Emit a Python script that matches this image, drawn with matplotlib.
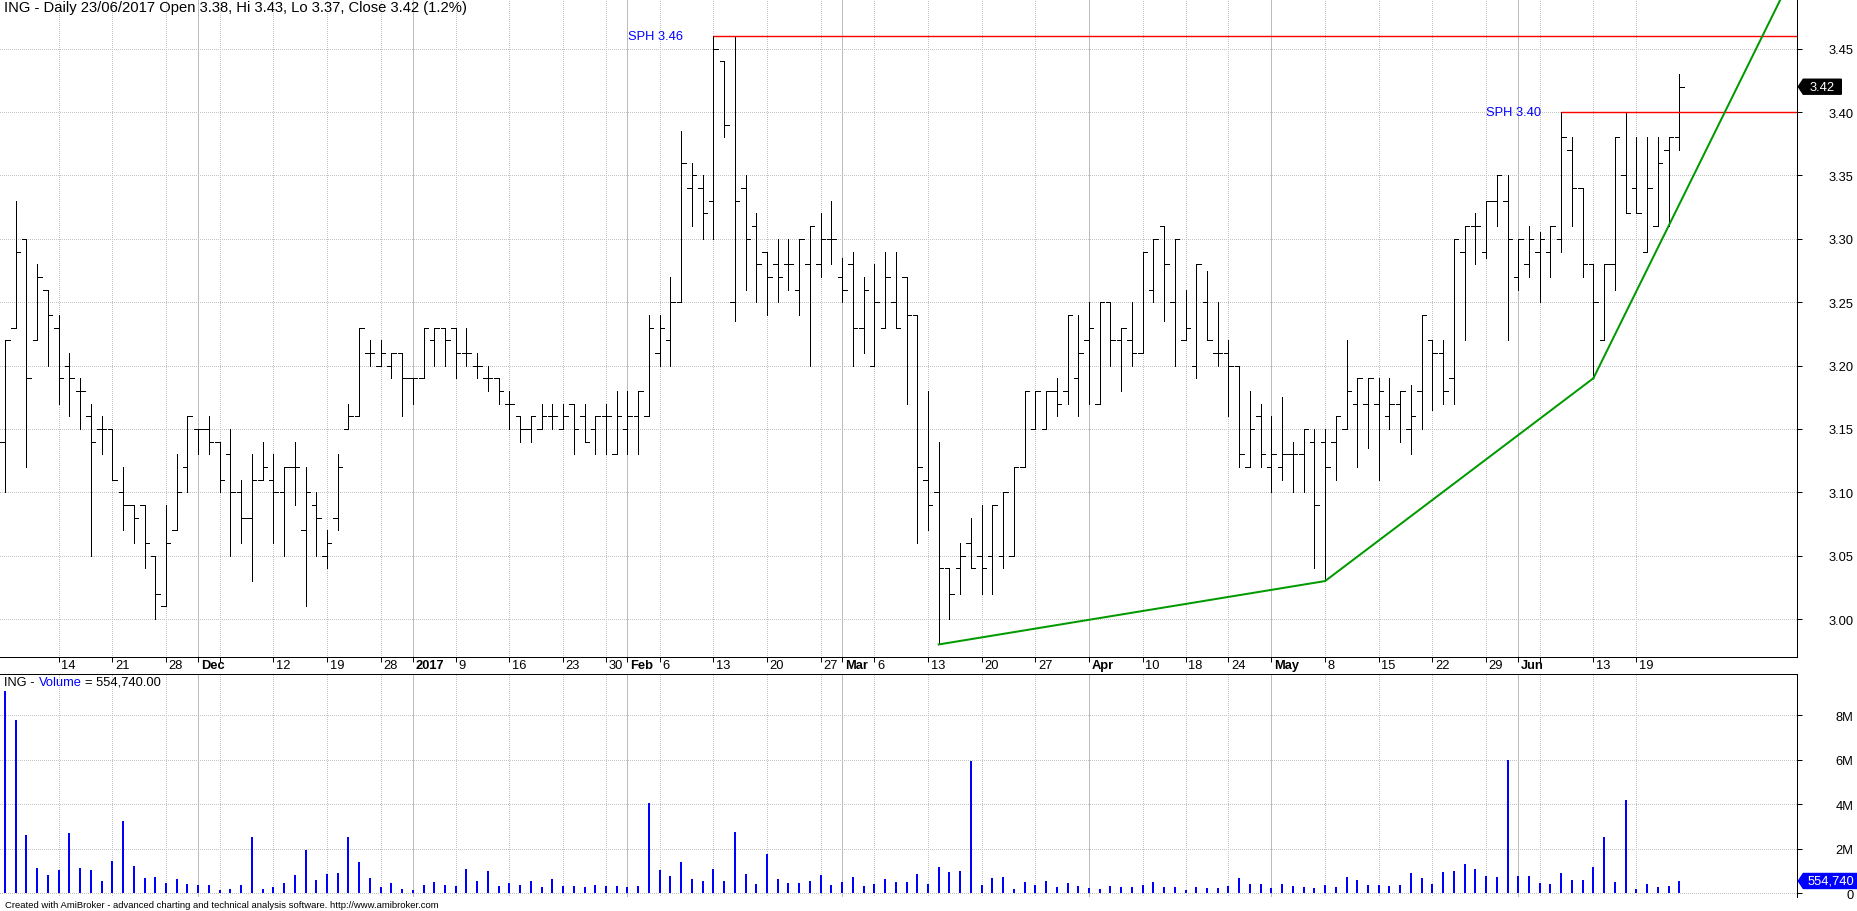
import numpy as np
import matplotlib
matplotlib.use("Agg")
import matplotlib.pyplot as plt
from matplotlib.collections import LineCollection
from matplotlib.patches import Polygon
from matplotlib.transforms import blended_transform_factory

plt.rcParams['font.family'] = ['Liberation Sans', 'DejaVu Sans']

# ING daily bars, one per trading day (07/11/2016 .. 23/06/2017)
opens = [3.14, 3.23, 3.30, 3.22, 3.26, 3.23, 3.20, 3.18, 3.16, 3.15,
         3.15, 3.10, 3.09, 3.09, 3.05, 3.01, 3.07, 3.12, 3.15, 3.15,
         3.14, 3.13, 3.10, 3.08, 3.11, 3.11, 3.10, 3.12, 3.07, 3.09,
         3.05, 3.08, 3.15, 3.16, 3.21, 3.20, 3.20, 3.21, 3.19, 3.19,
         3.22, 3.23, 3.23, 3.21, 3.20, 3.19, 3.19, 3.17, 3.16, 3.15,
         3.15, 3.16, 3.15, 3.17, 3.16, 3.15, 3.16, 3.13, 3.15, 3.16,
         3.16, 3.21, 3.22, 3.25, 3.34, 3.34, 3.33, 3.44, 3.25, 3.34,
         3.31, 3.29, 3.28, 3.28, 3.26, 3.28, 3.28, 3.30, 3.27, 3.28,
         3.23, 3.20, 3.23, 3.25, 3.27, 3.24, 3.11, 3.10, 3.04, 3.04,
         3.06, 3.05, 3.05, 3.05, 3.05, 3.12, 3.15, 3.15, 3.18, 3.18,
         3.19, 3.22, 3.17, 3.25, 3.22, 3.22, 3.21, 3.26, 3.31, 3.25,
         3.22, 3.20, 3.25, 3.21, 3.21, 3.20, 3.12, 3.16, 3.12, 3.12,
         3.13, 3.13, 3.14, 3.14, 3.14, 3.15, 3.17, 3.17, 3.17, 3.16,
         3.17, 3.15, 3.18, 3.22, 3.21, 3.19, 3.29, 3.31, 3.29, 3.33,
         3.33, 3.27, 3.28, 3.29, 3.29, 3.30, 3.37, 3.34, 3.28, 3.22,
         3.28, 3.35, 3.34, 3.29, 3.31, 3.37, 3.38]
highs = [3.22, 3.33, 3.30, 3.28, 3.26, 3.24, 3.21, 3.19, 3.17, 3.16,
         3.15, 3.12, 3.09, 3.09, 3.05, 3.09, 3.13, 3.16, 3.15, 3.16,
         3.14, 3.15, 3.11, 3.13, 3.14, 3.13, 3.12, 3.14, 3.12, 3.10,
         3.07, 3.13, 3.17, 3.23, 3.22, 3.22, 3.21, 3.21, 3.19, 3.23,
         3.23, 3.23, 3.23, 3.23, 3.21, 3.20, 3.19, 3.18, 3.16, 3.16,
         3.17, 3.17, 3.17, 3.17, 3.17, 3.16, 3.17, 3.18, 3.18, 3.18,
         3.24, 3.24, 3.27, 3.385, 3.36, 3.35, 3.46, 3.44, 3.46, 3.35,
         3.32, 3.29, 3.30, 3.30, 3.30, 3.31, 3.32, 3.33, 3.285, 3.29,
         3.27, 3.28, 3.29, 3.29, 3.27, 3.24, 3.18, 3.14, 3.04, 3.06,
         3.08, 3.09, 3.09, 3.10, 3.12, 3.18, 3.18, 3.18, 3.19, 3.24,
         3.24, 3.25, 3.25, 3.25, 3.23, 3.25, 3.29, 3.30, 3.31, 3.30,
         3.26, 3.28, 3.275, 3.25, 3.22, 3.20, 3.18, 3.17, 3.16, 3.175,
         3.14, 3.15, 3.15, 3.15, 3.16, 3.22, 3.19, 3.19, 3.19, 3.19,
         3.18, 3.185, 3.24, 3.22, 3.22, 3.30, 3.31, 3.32, 3.33, 3.35,
         3.35, 3.30, 3.31, 3.305, 3.31, 3.40, 3.38, 3.34, 3.28, 3.28,
         3.38, 3.40, 3.38, 3.38, 3.38, 3.38, 3.43]
lows = [3.10, 3.23, 3.12, 3.22, 3.20, 3.17, 3.16, 3.15, 3.05, 3.13,
        3.11, 3.07, 3.06, 3.04, 3.00, 3.01, 3.07, 3.10, 3.13, 3.13,
        3.10, 3.05, 3.06, 3.03, 3.11, 3.06, 3.05, 3.09, 3.01, 3.05,
        3.04, 3.07, 3.15, 3.16, 3.20, 3.20, 3.19, 3.16, 3.17, 3.19,
        3.20, 3.20, 3.19, 3.20, 3.19, 3.18, 3.17, 3.15, 3.14, 3.14,
        3.15, 3.15, 3.15, 3.13, 3.14, 3.13, 3.13, 3.13, 3.13, 3.13,
        3.16, 3.20, 3.20, 3.25, 3.31, 3.30, 3.30, 3.38, 3.235, 3.26,
        3.25, 3.24, 3.25, 3.26, 3.24, 3.20, 3.27, 3.28, 3.25, 3.20,
        3.21, 3.20, 3.23, 3.23, 3.17, 3.06, 3.07, 2.98, 3.00, 3.02,
        3.04, 3.02, 3.02, 3.04, 3.05, 3.12, 3.15, 3.15, 3.16, 3.17,
        3.16, 3.17, 3.17, 3.20, 3.18, 3.20, 3.21, 3.25, 3.235, 3.20,
        3.22, 3.19, 3.22, 3.20, 3.16, 3.12, 3.12, 3.12, 3.10, 3.11,
        3.10, 3.10, 3.04, 3.03, 3.11, 3.15, 3.12, 3.135, 3.11, 3.15,
        3.14, 3.13, 3.15, 3.165, 3.17, 3.17, 3.22, 3.28, 3.285, 3.31,
        3.22, 3.26, 3.27, 3.25, 3.27, 3.29, 3.31, 3.27, 3.19, 3.22,
        3.26, 3.32, 3.32, 3.29, 3.31, 3.31, 3.37]
closes = [3.22, 3.29, 3.19, 3.27, 3.24, 3.19, 3.19, 3.18, 3.14, 3.15,
          3.11, 3.09, 3.08, 3.06, 3.02, 3.06, 3.10, 3.16, 3.15, 3.14,
          3.11, 3.10, 3.08, 3.11, 3.12, 3.10, 3.12, 3.12, 3.10, 3.08,
          3.06, 3.12, 3.16, 3.23, 3.21, 3.21, 3.21, 3.19, 3.19, 3.23,
          3.23, 3.22, 3.21, 3.21, 3.20, 3.19, 3.18, 3.17, 3.15, 3.16,
          3.16, 3.16, 3.16, 3.15, 3.14, 3.16, 3.16, 3.16, 3.16, 3.18,
          3.23, 3.23, 3.25, 3.36, 3.35, 3.32, 3.45, 3.39, 3.33, 3.30,
          3.28, 3.27, 3.27, 3.28, 3.30, 3.31, 3.30, 3.30, 3.26, 3.23,
          3.26, 3.25, 3.27, 3.23, 3.24, 3.12, 3.09, 3.04, 3.02, 3.05,
          3.04, 3.04, 3.09, 3.10, 3.12, 3.18, 3.18, 3.18, 3.17, 3.24,
          3.21, 3.23, 3.25, 3.22, 3.23, 3.21, 3.29, 3.30, 3.28, 3.30,
          3.23, 3.28, 3.22, 3.21, 3.20, 3.13, 3.15, 3.13, 3.13, 3.13,
          3.13, 3.15, 3.09, 3.12, 3.16, 3.18, 3.19, 3.19, 3.18, 3.17,
          3.18, 3.16, 3.24, 3.21, 3.18, 3.30, 3.31, 3.31, 3.33, 3.35,
          3.30, 3.30, 3.30, 3.30, 3.31, 3.38, 3.34, 3.28, 3.25, 3.28,
          3.38, 3.32, 3.32, 3.34, 3.36, 3.38, 3.42]
# volume in millions of shares
volumes_m = [9.09, 7.78, 2.62, 1.14, 0.82, 1.05, 2.71, 1.14, 1.05, 0.55,
             1.45, 3.25, 1.23, 0.69, 0.73, 0.46, 0.64, 0.42, 0.37, 0.37,
             0.15, 0.19, 0.37, 2.53, 0.19, 0.28, 0.46, 0.82, 1.95, 0.60,
             0.87, 0.91, 2.53, 1.41, 0.69, 0.28, 0.46, 0.19, 0.15, 0.37,
             0.51, 0.37, 0.33, 1.09, 0.55, 1.00, 0.33, 0.46, 0.37, 0.55,
             0.28, 0.64, 0.33, 0.33, 0.28, 0.37, 0.33, 0.33, 0.28, 0.33,
             4.06, 1.05, 0.78, 1.41, 0.64, 0.55, 1.09, 0.55, 2.75, 0.87,
             0.42, 1.77, 0.64, 0.46, 0.46, 0.55, 0.82, 0.37, 0.51, 0.73,
             0.33, 0.42, 0.64, 0.51, 0.51, 0.87, 0.42, 1.18, 0.96, 1.00,
             5.94, 0.37, 0.69, 0.73, 0.19, 0.51, 0.37, 0.55, 0.28, 0.46,
             0.33, 0.24, 0.19, 0.33, 0.28, 0.28, 0.37, 0.51, 0.28, 0.28,
             0.15, 0.28, 0.24, 0.24, 0.33, 0.69, 0.42, 0.42, 0.24, 0.42,
             0.33, 0.28, 0.24, 0.37, 0.28, 0.73, 0.60, 0.37, 0.37, 0.33,
             0.37, 0.91, 0.69, 0.42, 0.96, 1.00, 1.32, 1.09, 0.78, 0.73,
             5.99, 0.78, 0.78, 0.46, 0.42, 0.91, 0.60, 0.60, 1.18, 2.53,
             0.51, 4.19, 0.19, 0.42, 0.28, 0.33, 0.55474]

# date axis: bar index of each tick and its label
tick_bars = [5, 10, 15, 18, 20, 25, 30, 35, 38, 42, 47, 52, 56, 58, 61, 66, 71, 76, 78,
             81, 86, 91, 96, 101, 106, 110, 114, 118, 123, 128, 133, 138, 141, 143, 148, 152]
tick_labels = ['14', '21', '28', 'Dec', '', '12', '19', '28', '2017', '9', '16', '23', '30',
               'Feb', '6', '13', '20', '27', 'Mar', '6', '13', '20', '27', 'Apr', '10', '18',
               '24', 'May', '8', '15', '22', '29', 'Jun', '', '13', '19']
month_bars = [18, 38, 58, 78, 101, 118, 141]

price_ticks = [3.00, 3.05, 3.10, 3.15, 3.20, 3.25, 3.30, 3.35, 3.40, 3.45]
vol_ticks = [0, 2, 4, 6, 8]
vol_tick_labels = ['0', '2M', '4M', '6M', '8M']

sph_bars = [66, 145]          # swing-high bars
sph_label_shift = [2.8, 1.9]  # label gap, in bars
trend_bars = [87, 123, 148, 155]  # lows joined by the green trend line

W, H, DPI = 1858, 912, 100
PX = 72.0 / DPI
FS = 9.3
GRID = '#c4c4c4'
GREEN = '#009a00'
DOTS = (0, (1, 2))

fig = plt.figure(figsize=(W / DPI, H / DPI), dpi=DPI)
right = 1797.3 / W
ax = fig.add_axes([0, 1 - 658 / H, right, 658 / H])
axv = fig.add_axes([0, 1 - 898 / H, right, 223 / H])

n = len(opens)
x = np.arange(n)
xlim = (-0.466, 167.0)
ax.set_ylim(2.9701, 3.4892)
axv.set_ylim(-0.165, 9.857)

week_bars = [b for b in tick_bars if b not in month_bars]
for a in (ax, axv):
    a.set_xlim(*xlim)
    y0, y1 = a.get_ylim()
    a.vlines(week_bars, y0, y1, colors=GRID, linestyles=DOTS, lw=PX,
             zorder=0, antialiased=False)
    a.vlines(month_bars, y0, y1, colors='#bcbcbc', lw=PX, zorder=0, antialiased=False)
    a.spines['left'].set_visible(False)
    for s in ('top', 'right', 'bottom'):
        a.spines[s].set_linewidth(PX)
    a.yaxis.tick_right()
    a.tick_params(axis='y', direction='out', length=5 * PX, width=PX,
                  pad=51 * PX, labelsize=FS)

ax.hlines(price_ticks, *xlim, colors=GRID, linestyles=DOTS, lw=PX,
          zorder=0, antialiased=False)
axv.hlines(vol_ticks, *xlim, colors=GRID, linestyles=DOTS, lw=PX,
           zorder=0, antialiased=False)
axv.spines['bottom'].set_visible(False)

# OHLC bars
tw = 0.42
segs = []
for i in range(n):
    segs.append([(i, lows[i]), (i, highs[i])])
    segs.append([(i - tw, opens[i]), (i, opens[i])])
    segs.append([(i, closes[i]), (i + tw, closes[i])])
ax.add_collection(LineCollection(segs, colors='black', linewidths=PX,
                                 antialiased=False, zorder=3))

# swing highs
for b, off in zip(sph_bars, sph_label_shift):
    lvl = highs[b]
    ax.hlines(lvl, b, xlim[1], colors='#ff0000', lw=1.4 * PX, zorder=4)
    ax.text(b - off, lvl, f'SPH {lvl:.2f}', color='#0000ff', ha='right',
            va='center', fontsize=FS)

# trend line through the lows
tl = [lows[b] for b in trend_bars]
ax.plot(trend_bars[:3], tl[:3], color=GREEN, lw=2 * PX, zorder=5)
slope = (tl[3] - tl[2]) / (trend_bars[3] - trend_bars[2])
ax.plot([trend_bars[2], xlim[1]], [tl[2], tl[2] + slope * (xlim[1] - trend_bars[2])],
        color=GREEN, lw=2 * PX, zorder=5)

# volume
axv.vlines(x, 0, volumes_m, colors='#0000ff', lw=2 * PX, antialiased=False, zorder=3)

# ticks and labels
ax.set_xticks(tick_bars)
ax.tick_params(axis='x', direction='out', length=5 * PX, width=PX, labelbottom=False)
axv.tick_params(axis='x', length=0, labelbottom=False)
ax.set_yticks(price_ticks, [f'{v:.2f}' for v in price_ticks])
axv.set_yticks(vol_ticks, vol_tick_labels)
for a in (ax, axv):
    for lab in a.get_yticklabels():
        lab.set_horizontalalignment('right')

tr = blended_transform_factory(ax.transData, ax.transAxes)
for b, lab in zip(tick_bars, tick_labels):
    if lab:
        ax.text(b + 0.25, -2.0 / 658, lab, transform=tr, ha='left', va='top',
                fontsize=FS, fontweight='bold' if b in month_bars else 'normal',
                clip_on=False)

# value tags on the right axis
def tag(a, val, text, fc, width):
    xd, yd = a.transData.transform((xlim[1], val))
    pts = np.array([(xd + 1, yd), (xd + 6, yd + 7.5), (xd + width, yd + 7.5),
                    (xd + width, yd - 7.5), (xd + 6, yd - 7.5)]) / [W, H]
    fig.add_artist(Polygon(pts, closed=True, transform=fig.transFigure,
                           facecolor=fc, edgecolor=fc))
    fig.text((xd + 6 + (width - 6) / 2) / W, yd / H, text, color='white',
             ha='center', va='center', fontsize=FS)

tag(ax, closes[-1], f'{closes[-1]:.2f}', 'black', 44)
tag(axv, volumes_m[-1], f'{volumes_m[-1] * 1e6:,.0f}', '#0000ff', 61)

# titles
fig.text(4 / W, 1 - 1 / H,
         f'ING - Daily 23/06/2017 Open {opens[-1]:.2f}, Hi {highs[-1]:.2f}, '
         f'Lo {lows[-1]:.2f}, Close {closes[-1]:.2f} (1.2%)',
         ha='left', va='top', fontsize=10.6)

r = fig.canvas.get_renderer()
xpos = 4
for s, c in [('ING -', 'black'), ('Volume', '#0000ff'), ('= ' + f'{volumes_m[-1] * 1e6:,.2f}', 'black')]:
    t = fig.text(xpos / W, 1 - 677 / H, s, color=c, fontsize=FS, ha='left', va='top')
    xpos += t.get_window_extent(r).width + 4

fig.text(5 / W, 1 - 906 / H,
         'Created with AmiBroker - advanced charting and technical analysis software. '
         'http://www.amibroker.com', ha='left', va='center', fontsize=6.8)

fig.savefig('out.png', dpi=DPI)
